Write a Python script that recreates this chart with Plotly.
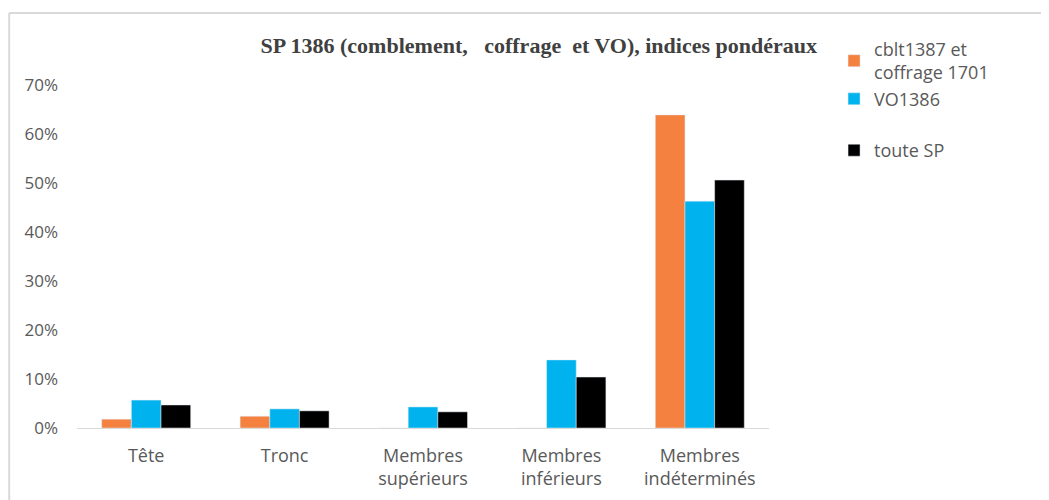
import plotly.graph_objects as go

categories = ["Tête", "Tronc", "Membres<br>supérieurs", "Membres<br>inférieurs", "Membres<br>indéterminés"]
cblt_coffrage = [0.018, 0.024, 0.0, 0.0, 0.639]
vo1386 = [0.057, 0.039, 0.043, 0.139, 0.463]
toute_sp = [0.047, 0.035, 0.033, 0.104, 0.506]

grey = "#595959"
font_sans = "Open Sans, Noto Sans, sans-serif"

fig = go.Figure()
fig.add_trace(go.Bar(x=categories, y=cblt_coffrage, name="cblt1387 et<br>coffrage 1701",
                     marker_color="#F4813F", legendgroup="a"))
fig.add_trace(go.Bar(x=categories, y=vo1386, name="VO1386",
                     marker_color="#00B3EE", legendgroup="a"))
fig.add_trace(go.Bar(x=categories, y=toute_sp, name="toute SP",
                     marker_color="#000000", legendgroup="b"))

# chart frame (only top and left edges visible)
fig.add_shape(type="line", xref="paper", yref="paper", x0=-0.098, x1=-0.098, y0=-0.3, y1=1.21,
              line=dict(color="#D9D9D9", width=2))
fig.add_shape(type="line", xref="paper", yref="paper", x0=-0.098, x1=1.5, y0=1.21, y1=1.21,
              line=dict(color="#D9D9D9", width=2))

fig.update_layout(
    width=1049, height=500,
    margin=dict(l=69, r=288, t=77, b=80),
    paper_bgcolor="white", plot_bgcolor="white",
    barmode="group", bargap=0.357, bargroupgap=0,
    title=dict(text="<b>SP 1386 (comblement,   coffrage  et VO), indices pondéraux</b>",
               xref="container", x=0.506, xanchor="center", y=0.926, yanchor="middle",
               font=dict(family="Liberation Serif, serif", size=22, color="#404040")),
    font=dict(family=font_sans, size=18, color=grey),
    legend=dict(x=1.094, y=1.158, xanchor="left", yanchor="top", itemwidth=30,
                tracegroupgap=25, font=dict(size=18, color=grey),
                bgcolor="rgba(0,0,0,0)"),
    showlegend=True,
)
fig.update_xaxes(showline=True, linecolor="#D9D9D9", linewidth=1, ticks="",
                 ticklabelstandoff=11, tickfont=dict(size=18, color=grey), showgrid=False)
fig.update_yaxes(range=[0, 0.7], dtick=0.1, tickformat=".0%", showgrid=False,
                 zeroline=False, showline=False, ticks="", ticklabelstandoff=18,
                 tickfont=dict(size=17, color=grey))

fig.write_html("out.html")
